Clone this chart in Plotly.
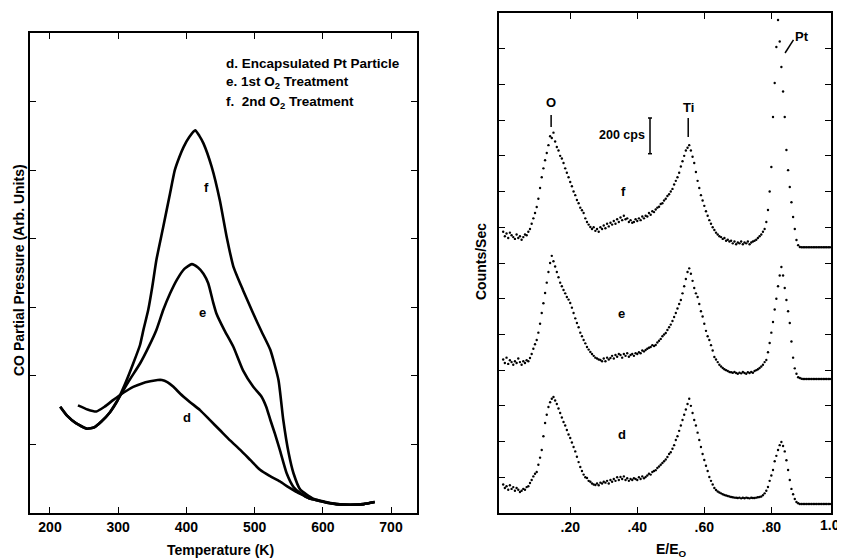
import plotly.graph_objects as go

# ---------------- Left panel: CO partial pressure vs temperature ----------------
T_d = [241, 255, 268, 280, 293, 307, 322, 335, 347, 358, 364, 372, 381, 391, 405, 420,
       435, 449, 464, 479, 494, 508, 522, 537, 549, 561, 571, 581, 594, 606, 620, 640, 660, 676]
co_d = [1.57, 1.51, 1.48, 1.55, 1.65, 1.75, 1.84, 1.89, 1.92, 1.94, 1.94, 1.91, 1.84, 1.74, 1.62, 1.50,
        1.35, 1.21, 1.06, 0.92, 0.77, 0.63, 0.54, 0.46, 0.38, 0.31, 0.26, 0.21, 0.18, 0.15, 0.13, 0.12, 0.13, 0.16]

T_e = [215, 225, 238, 254, 265, 275, 288, 300, 316, 332, 345, 356, 366, 376, 386, 397, 408, 417,
       425, 432, 439, 444, 456, 469, 483, 498, 510, 517, 523, 530, 537, 547, 557, 567, 581, 594,
       606, 620, 640, 660, 676]
co_e = [1.55, 1.42, 1.31, 1.23, 1.25, 1.33, 1.47, 1.66, 1.93, 2.18, 2.43, 2.67, 2.96, 3.20, 3.40, 3.56, 3.63, 3.58,
        3.49, 3.35, 3.08, 2.91, 2.66, 2.42, 2.08, 1.84, 1.70, 1.55, 1.36, 1.15, 0.92, 0.58, 0.38, 0.29, 0.21, 0.18,
        0.15, 0.13, 0.12, 0.13, 0.16]

T_f = [215, 225, 238, 254, 265, 275, 288, 298, 310, 322, 332, 337, 344, 350, 356, 366, 376, 383, 390, 396,
       404, 413, 419, 425, 437, 449, 459, 469, 483, 497, 510, 523, 535, 542, 550, 557, 567, 586, 600,
       620, 640, 660, 676]
co_f = [1.55, 1.42, 1.31, 1.23, 1.25, 1.33, 1.47, 1.62, 1.88, 2.18, 2.45, 2.67, 2.96, 3.30, 3.69, 4.17, 4.66, 5.00, 5.20, 5.34,
        5.48, 5.58, 5.50, 5.39, 5.05, 4.56, 4.03, 3.59, 3.25, 2.93, 2.65, 2.38, 1.94, 1.36, 0.87, 0.58, 0.34, 0.21, 0.17,
        0.13, 0.12, 0.13, 0.16]

temp_ticks = [200, 300, 400, 500, 600, 700]
legend_lines = ["d. Encapsulated Pt Particle",
                "e. 1st O<sub>2</sub> Treatment",
                "f.  2nd O<sub>2</sub> Treatment"]

# ---------------- Right panel: ion scattering spectra (counts/sec vs E/E0) ----------------
E_STEP = 0.005  # sampling step of the spectra along E/E0, starting at 0
iss_f = [1575, 1550, 1565, 1540, 1570, 1555, 1545, 1535, 1560, 1540,
         1550, 1530, 1545, 1560, 1555, 1575, 1590, 1620, 1650, 1680,
         1714, 1760, 1820, 1880, 1930, 1975, 2016, 2060, 2110, 2100,
         2130, 2080, 2050, 2030, 2000, 1985, 1960, 1930, 1905, 1880,
         1854, 1830, 1800, 1780, 1753, 1735, 1710, 1695, 1680, 1650,
         1630, 1615, 1602, 1590, 1600, 1580, 1590, 1575, 1600, 1590,
         1610, 1595, 1620, 1605, 1625, 1615, 1635, 1620, 1645, 1630,
         1655, 1640, 1665, 1645, 1650, 1630, 1640, 1625, 1630, 1645,
         1635, 1650, 1640, 1660, 1650, 1665, 1660, 1680, 1670, 1690,
         1685, 1700, 1710, 1715, 1730, 1735, 1750, 1760, 1775, 1785,
         1800, 1815, 1840, 1860, 1880, 1905, 1940, 1970, 2000, 2030,
         2045, 2060, 2030, 1995, 1960, 1910, 1860, 1820, 1780, 1750,
         1720, 1690, 1665, 1640, 1620, 1600, 1585, 1570, 1560, 1550,
         1545, 1535, 1540, 1525, 1530, 1520, 1525, 1510, 1520, 1505,
         1515, 1510, 1520, 1505, 1515, 1510, 1520, 1505, 1515, 1520,
         1525, 1530, 1540, 1550, 1560, 1575, 1590, 1630, 1697, 1800,
         1938, 2218, 2408, 2610, 2761, 2640, 2498, 2360, 2218, 2033,
         1920, 1826, 1740, 1658, 1590, 1529, 1500, 1490, 1488, 1488,
         1488, 1488, 1488, 1488, 1488, 1488, 1488, 1488, 1488, 1488,
         1488, 1488, 1488, 1488, 1488, 1488]
iss_e = [860, 840, 870, 835, 855, 845, 830, 850, 840, 865,
         845, 830, 850, 840, 855, 850, 868, 890, 920, 945,
         969, 1010, 1060, 1120, 1175, 1232, 1290, 1350, 1400, 1440,
         1410, 1380, 1350, 1320, 1290, 1270, 1249, 1230, 1210, 1195,
         1176, 1150, 1120, 1090, 1064, 1040, 1010, 990, 969, 950,
         930, 915, 902, 890, 880, 870, 865, 860, 857, 850,
         865, 850, 870, 860, 868, 880, 865, 885, 875, 890,
         885, 870, 890, 880, 895, 875, 885, 890, 880, 895,
         890, 900, 895, 910, 905, 913, 920, 925, 930, 940,
         935, 941, 955, 965, 975, 990, 1000, 1008, 1025, 1040,
         1055, 1075, 1098, 1120, 1145, 1170, 1193, 1230, 1270, 1310,
         1350, 1370, 1340, 1300, 1260, 1230, 1210, 1170, 1130, 1100,
         1060, 1020, 990, 969, 940, 910, 874, 860, 845, 830,
         820, 812, 805, 800, 795, 790, 788, 785, 790, 784,
         780, 786, 782, 790, 784, 780, 788, 784, 790, 785,
         795, 800, 805, 812, 820, 830, 845, 857, 900, 952,
         1010, 1070, 1140, 1200, 1270, 1330, 1378, 1330, 1260, 1193,
         1130, 1064, 960, 870, 810, 780, 760, 756, 752, 750,
         750, 750, 750, 750, 750, 750, 750, 750, 750, 750,
         750, 750, 750, 750, 750, 750]
iss_d = [160, 140, 150, 130, 155, 135, 145, 125, 140, 130,
         118, 125, 135, 130, 145, 150, 168, 185, 205, 220,
         230, 270, 310, 353, 430, 504, 550, 594, 620, 640,
         650, 630, 610, 585, 560, 535, 510, 490, 465, 440,
         420, 395, 370, 345, 315, 285, 258, 235, 215, 200,
         196, 180, 175, 165, 160, 157, 165, 155, 170, 165,
         175, 170, 180, 165, 185, 175, 190, 180, 200, 185,
         202, 190, 205, 185, 195, 180, 190, 185, 195, 190,
         185, 200, 190, 205, 195, 202, 210, 220, 215, 230,
         235, 240, 252, 260, 270, 280, 290, 300, 314, 330,
         340, 360, 380, 409, 430, 460, 490, 521, 550, 580,
         610, 640, 600, 560, 521, 490, 450, 409, 370, 330,
         297, 265, 235, 202, 180, 160, 140, 129, 120, 115,
         110, 105, 101, 98, 95, 92, 90, 88, 86, 85,
         84, 86, 82, 85, 83, 86, 84, 82, 85, 84,
         84, 86, 88, 90, 92, 100, 110, 125, 146, 180,
         210, 241, 290, 320, 353, 380, 398, 375, 345, 295,
         241, 185, 135, 105, 78, 62, 55, 50, 50, 50,
         50, 50, 50, 50, 50, 50, 50, 50, 50, 50,
         50, 50, 50, 50, 50, 50]

e_label_vals = [0.2, 0.4, 0.6, 0.8]
e_label_text = [".20", ".40", ".60", ".80"]
e_minor_vals = [0.1, 0.3, 0.5, 0.7, 0.9]

FONT = "Liberation Sans, Arial, Helvetica, sans-serif"
# the page body has an 8px default margin; the figure is sized to fill the rest of the window
OFF = 8
W, H = 845 - OFF, 560 - OFF


def px_x(p):
    return (p - OFF) / W


def px_y(p):
    return 1 - (p - OFF) / H


fig = go.Figure()

line_style = dict(color="black", width=2.6, shape="spline", smoothing=0.5)
for T, c, name in [(T_d, co_d, "d"), (T_e, co_e, "e"), (T_f, co_f, "f")]:
    fig.add_trace(go.Scatter(x=T, y=c, mode="lines", line=line_style, name=name,
                             xaxis="x", yaxis="y", showlegend=False))

for vals, name in [(iss_f, "f"), (iss_e, "e"), (iss_d, "d")]:
    E = [round(i * E_STEP, 3) for i in range(len(vals))]
    fig.add_trace(go.Scatter(x=E, y=vals, mode="markers", name=name,
                             marker=dict(color="black", size=2.4, line=dict(width=0)),
                             xaxis="x2", yaxis="y2", showlegend=False))

axis_common = dict(showline=True, linecolor="black", linewidth=1.6, mirror="allticks",
                   ticks="inside", ticklen=6, tickwidth=1.4, tickcolor="black",
                   showgrid=False, zeroline=False,
                   tickfont=dict(family=FONT, size=14, color="black", weight="bold"))

E_RANGE = [-0.0125, 0.978]
fig.update_layout(
    width=W, height=H,
    margin=dict(l=0, r=0, t=0, b=0),
    paper_bgcolor="white", plot_bgcolor="white",
    showlegend=False,
    xaxis=dict(domain=[px_x(30), px_x(417)], range=[170.7, 738.1],
               tickvals=temp_ticks, ticktext=[str(t) for t in temp_ticks], anchor="y", **axis_common),
    yaxis=dict(domain=[px_y(513), px_y(33)], range=[0, 7], tickvals=[1, 2, 3, 4, 5, 6],
               showticklabels=False, anchor="x", **axis_common),
    xaxis2=dict(domain=[px_x(499), px_x(831)], range=E_RANGE,
                tickvals=e_label_vals, ticktext=e_label_text, anchor="y2", **axis_common),
    # unlabeled intermediate ticks on an overlaid copy of the E/E0 axis
    xaxis3=dict(domain=[px_x(499), px_x(831)], range=E_RANGE, overlaying="x2",
                tickvals=e_minor_vals, showticklabels=False, anchor="y2", **axis_common),
    yaxis2=dict(domain=[px_y(513), px_y(13)], range=[0, 2800],
                tickvals=list(range(200, 2800, 200)), showticklabels=False, anchor="x2", **axis_common),
)

bold = lambda size: dict(family=FONT, size=size, color="black", weight="bold")
ctr = dict(xanchor="center", yanchor="middle", showarrow=False, xref="paper", yref="paper")
ann = []
# axis titles
ann.append(dict(text="CO Partial Pressure (Arb. Units)", x=px_x(19), y=px_y(270), textangle=-90,
                font=bold(14), **ctr))
ann.append(dict(text="Temperature (K)", x=px_x(220), y=px_y(550), font=bold(14), **ctr))
ann.append(dict(text="Counts/Sec", x=px_x(481), y=px_y(262), textangle=-90, font=bold(14), **ctr))
ann.append(dict(text="E/E<sub>O</sub>", x=px_x(671), y=px_y(550), font=bold(14), **ctr))
ann.append(dict(text="1.0", x=px_x(830), y=px_y(525), font=bold(14), **ctr))
# legend text (left panel)
for i, t in enumerate(legend_lines):
    ann.append(dict(text=t, xref="x", yref="y", x=455, y=6.56 - i * 0.285, xanchor="left",
                    showarrow=False, font=bold(13.5)))
# curve labels (left panel)
for txt, x, y in [("f", 429, 4.74), ("e", 424, 2.92), ("d", 401, 1.40)]:
    ann.append(dict(text=txt, xref="x", yref="y", x=x, y=y, showarrow=False, font=bold(13)))
# spectrum labels (right panel)
for txt, x, y in [("f", 0.360, 1800), ("e", 0.354, 1120), ("d", 0.354, 437),
                  ("O", 0.143, 2300), ("Ti", 0.552, 2272), ("Pt", 0.892, 2666)]:
    ann.append(dict(text=txt, xref="x2", yref="y2", x=x, y=y, showarrow=False, font=bold(13)))
ann.append(dict(text="200 cps", xref="x2", yref="y2", x=0.428, y=2117, xanchor="right",
                showarrow=False, font=bold(12.5)))
fig.update_layout(annotations=ann)

shapes = []
lw = dict(color="black", width=1.5)
# marker lines for O and Ti
shapes.append(dict(type="line", xref="x2", yref="y2", x0=0.143, x1=0.143, y0=2162, y1=2229, line=lw))
shapes.append(dict(type="line", xref="x2", yref="y2", x0=0.552, x1=0.552, y0=2106, y1=2212, line=lw))
# Pt pointer
shapes.append(dict(type="line", xref="x2", yref="y2", x0=0.841, x1=0.866, y0=2576, y1=2649, line=lw))
# 200 cps scale bar
shapes.append(dict(type="line", xref="x2", yref="y2", x0=0.438, x1=0.438, y0=2012, y1=2212, line=lw))
shapes.append(dict(type="line", xref="x2", yref="y2", x0=0.432, x1=0.444, y0=2212, y1=2212, line=lw))
shapes.append(dict(type="line", xref="x2", yref="y2", x0=0.432, x1=0.444, y0=2012, y1=2012, line=lw))
fig.update_layout(shapes=shapes)

fig.write_html("out.html")
